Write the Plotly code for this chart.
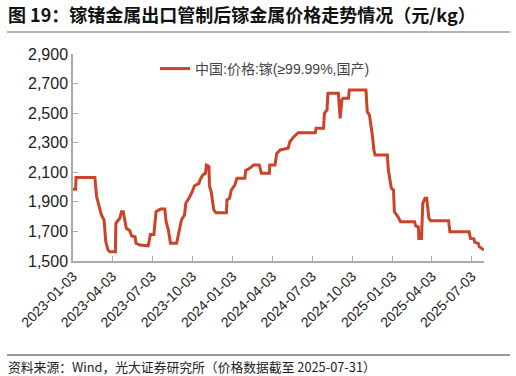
import plotly.graph_objects as go

dates = [
    "2023-01-03", "2023-01-09", "2023-01-10", "2023-02-22", "2023-02-26", "2023-03-04",
    "2023-03-09", "2023-03-15", "2023-03-19", "2023-03-24", "2023-03-28", "2023-04-10",
    "2023-04-11", "2023-04-20", "2023-04-24", "2023-04-28", "2023-05-05", "2023-05-13",
    "2023-05-17", "2023-05-25", "2023-05-27", "2023-06-05", "2023-06-24", "2023-06-29",
    "2023-07-07", "2023-07-12", "2023-07-22", "2023-08-01", "2023-08-04", "2023-08-09",
    "2023-08-14", "2023-08-28", "2023-09-03", "2023-09-08", "2023-09-15", "2023-09-18",
    "2023-09-25", "2023-10-01", "2023-10-08", "2023-10-18", "2023-10-21", "2023-10-27",
    "2023-11-02", "2023-11-04", "2023-11-10", "2023-11-11", "2023-11-15", "2023-11-21",
    "2023-11-26", "2023-12-20", "2023-12-21", "2023-12-27", "2023-12-31", "2024-01-08",
    "2024-01-13", "2024-01-31", "2024-02-02", "2024-02-11", "2024-02-20", "2024-03-04",
    "2024-03-09", "2024-03-27", "2024-03-28", "2024-04-09", "2024-04-13", "2024-04-21",
    "2024-05-09", "2024-05-13", "2024-05-21", "2024-06-01", "2024-07-10", "2024-07-12",
    "2024-07-29", "2024-07-31", "2024-08-06", "2024-08-08", "2024-09-01", "2024-09-05",
    "2024-09-09", "2024-09-12", "2024-09-24", "2024-09-26", "2024-11-03", "2024-11-06",
    "2024-11-11", "2024-11-14", "2024-11-18", "2024-11-21", "2024-11-24", "2024-12-22",
    "2024-12-24", "2024-12-31", "2025-01-05", "2025-01-07", "2025-01-15", "2025-01-21",
    "2025-02-22", "2025-02-25", "2025-03-03", "2025-03-04", "2025-03-10", "2025-03-13",
    "2025-03-18", "2025-03-22", "2025-03-27", "2025-03-31", "2025-05-11", "2025-05-14",
    "2025-06-27", "2025-06-30", "2025-07-08", "2025-07-10", "2025-07-18", "2025-07-20",
    "2025-07-26", "2025-07-31",
]
prices = [
    1985, 1985, 2065, 2065, 1935, 1867,
    1811, 1777, 1630, 1574, 1563, 1563,
    1755, 1789, 1833, 1833, 1721, 1705,
    1669, 1664, 1620, 1608, 1603, 1680,
    1680, 1833, 1851, 1851, 1766, 1710,
    1620, 1620, 1710, 1777, 1811, 1890,
    1924, 1958, 2009, 2025, 2052, 2082,
    2093, 2149, 2140, 2009, 1969, 1845,
    1827, 1827, 1912, 1924, 1980, 2014,
    2059, 2059, 2113, 2127, 2149, 2149,
    2093, 2093, 2149, 2149, 2228, 2251,
    2262, 2307, 2337, 2368, 2368, 2397,
    2397, 2499, 2521, 2634, 2634, 2465,
    2589, 2600, 2600, 2657, 2657, 2510,
    2487, 2431, 2341, 2251, 2217, 2217,
    2120, 1992, 1980, 1833, 1800, 1766,
    1766, 1737, 1730, 1653, 1653, 1890,
    1924, 1924, 1789, 1773, 1773, 1698,
    1698, 1653, 1650, 1626, 1619, 1597,
    1586, 1574,
]
tick_dates = [
    "2023-01-03", "2023-04-03", "2023-07-03", "2023-10-03", "2024-01-03", "2024-04-03",
    "2024-07-03", "2024-10-03", "2025-01-03", "2025-04-03", "2025-07-03",
]
series_name = "中国:价格:镓(≥99.99%,国产)"
title_text = "图 19：镓锗金属出口管制后镓金属价格走势情况（元/kg）"
source_text = "资料来源：Wind，光大证券研究所（价格数据截至 2025-07-31）"

W, H = 516, 376
L, R, T, B = 73, 484, 54, 261
pw, ph = R - L, B - T

def px(x):
    return (x - L) / pw

def py(y):
    return (B - y) / ph

fig = go.Figure()
fig.add_trace(go.Scatter(
    x=dates, y=prices, mode="lines", name=series_name,
    line=dict(color="#CC4328", width=3),
))

fig.update_layout(
    width=W, height=H,
    margin=dict(l=L, r=W - R, t=T, b=H - B, autoexpand=False),
    paper_bgcolor="white", plot_bgcolor="white",
    showlegend=True,
    legend=dict(
        x=px(155), y=py(69), xanchor="left", yanchor="middle",
        font=dict(family="Liberation Sans, Noto Sans CJK SC, sans-serif", size=14, color="#444"),
        bgcolor="rgba(0,0,0,0)",
    ),
    xaxis=dict(
        type="date", range=["2023-01-03", "2025-07-31"],
        tickvals=tick_dates, ticktext=tick_dates, tickangle=-45,
        ticks="inside", ticklen=5, tickcolor="#aaa", tickwidth=1,
        showline=True, linecolor="#aaa", linewidth=1.5,
        showgrid=False, zeroline=False,
        tickfont=dict(family="Liberation Sans, Arial, sans-serif", size=14, color="#222"),
    ),
    yaxis=dict(
        range=[1500, 2900], dtick=200, tick0=1500, tickformat=",d",
        ticks="inside", ticklen=5, tickcolor="#aaa", tickwidth=1,
        showline=True, linecolor="#aaa", linewidth=1.5,
        showgrid=False, zeroline=False,
        tickfont=dict(family="Liberation Sans, Arial, sans-serif", size=16, color="#222"),
    ),
    annotations=[
        dict(text="<b>" + title_text + "</b>", xref="paper", yref="paper",
             x=px(6), y=py(14), xanchor="left", yanchor="middle", showarrow=False,
             font=dict(family="Noto Sans CJK SC, sans-serif", size=18, color="#111")),
        dict(text=source_text, xref="paper", yref="paper",
             x=px(6), y=py(366), xanchor="left", yanchor="middle", showarrow=False,
             font=dict(family="Noto Sans CJK SC, sans-serif", size=12.8, color="#222")),
    ],
    shapes=[
        dict(type="line", xref="paper", yref="paper", x0=px(7), x1=px(510),
             y0=py(32), y1=py(32), line=dict(color="#666", width=1.2)),
        dict(type="line", xref="paper", yref="paper", x0=px(7), x1=px(510),
             y0=py(355), y1=py(355), line=dict(color="#333", width=1)),
    ],
)

fig.write_html(
    "out.html",
    config={"displayModeBar": False},
    post_script="document.body.style.margin='0';document.body.style.overflow='hidden';",
)
